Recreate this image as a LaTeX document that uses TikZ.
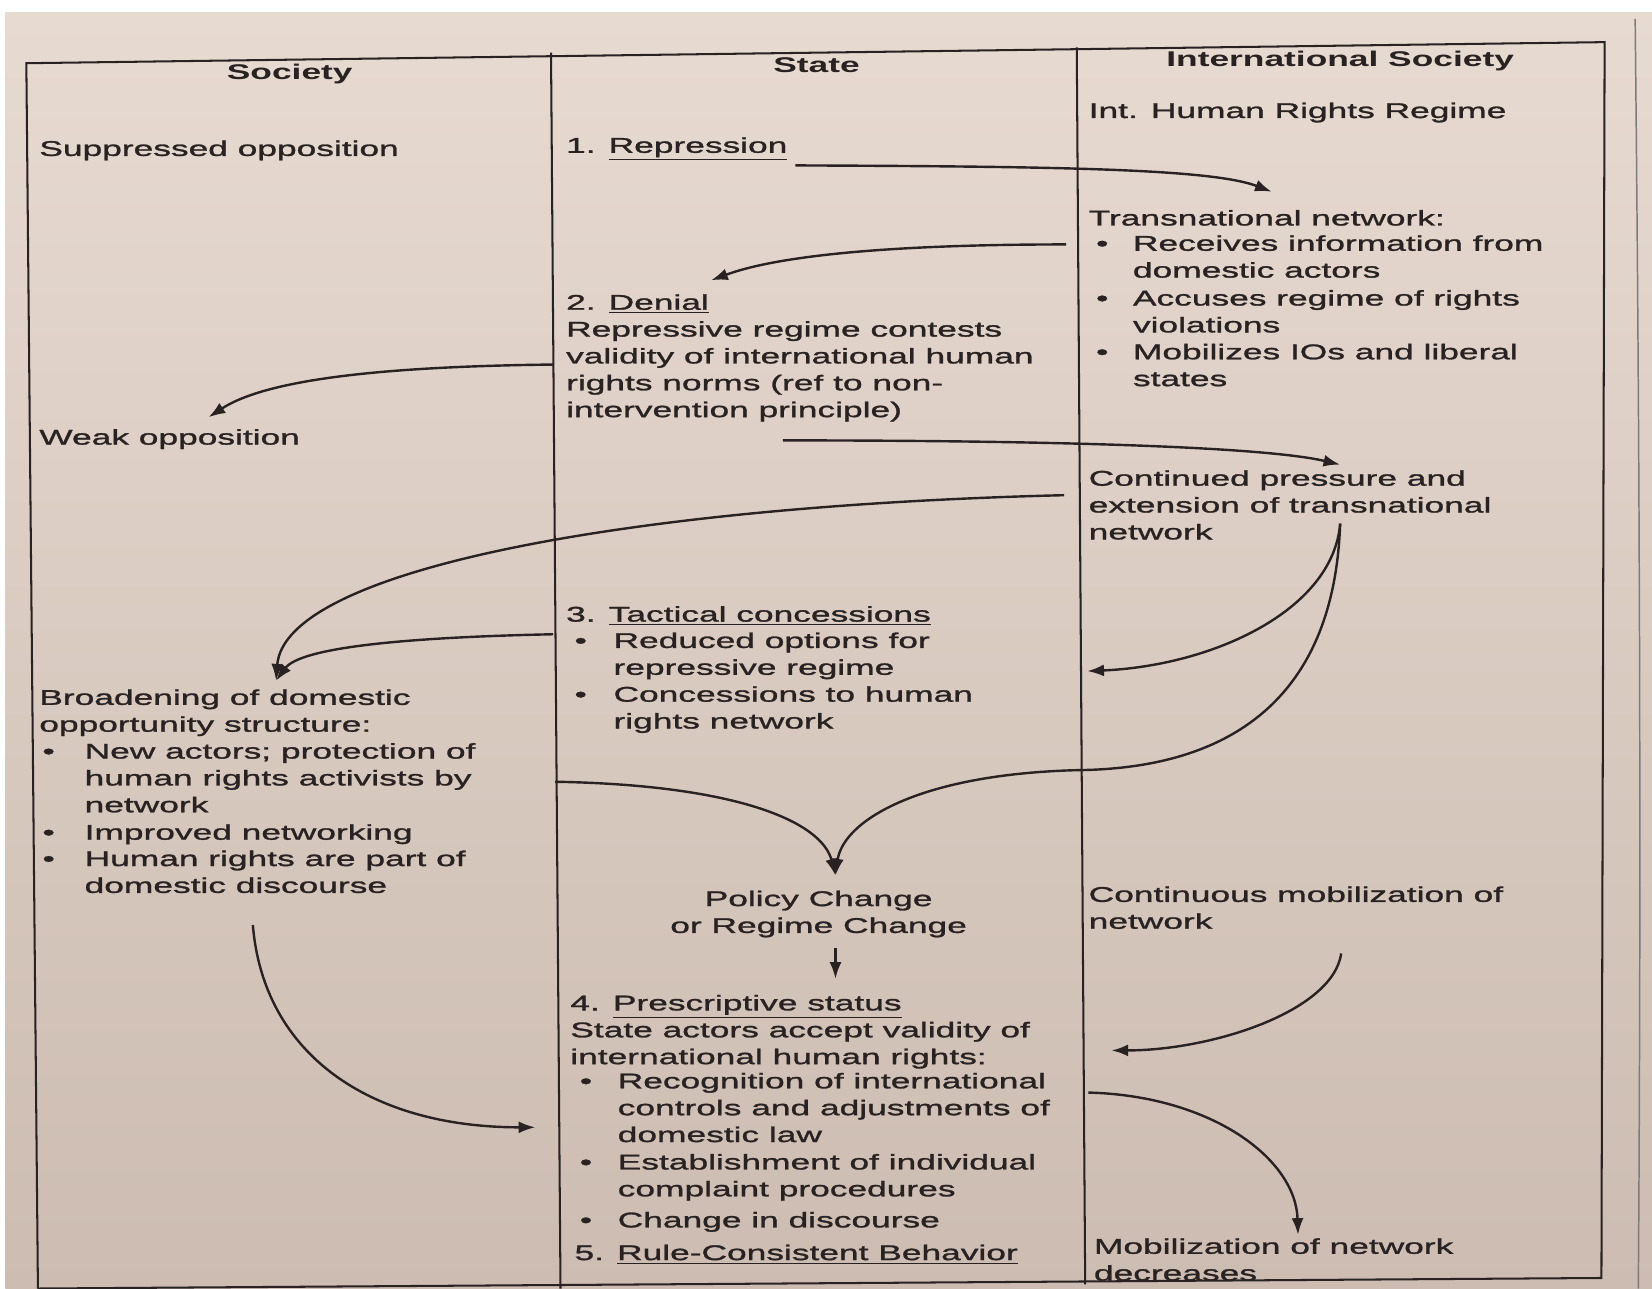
\documentclass[tikz,border=0pt]{standalone}
\usepackage{fontspec}
\setmainfont{Liberation Sans}[FakeStretch=1.66]
\newfontfamily\bodyfont{Liberation Sans}[FakeStretch=1.66, FakeBold=1.3]
\usetikzlibrary{arrows.meta}
\definecolor{ink}{RGB}{40,34,34}
\definecolor{papertop}{RGB}{231,218,208}
\definecolor{paperbot}{RGB}{204,188,178}
\newcommand{\lns}[1]{\begin{tabular}[t]{@{}l@{}}#1\end{tabular}}
\newcommand{\clns}[1]{\begin{tabular}[t]{@{}c@{}}#1\end{tabular}}

\tikzset{
  txt/.style={anchor=base west, inner sep=0pt, text=ink, font=\bodyfont\fontsize{11.5}{14.5}\selectfont},
  head/.style={anchor=base, inner sep=0pt, text=ink, font=\fontsize{11.5}{14.5}\selectfont\bfseries},
  mid/.style={anchor=base, inner sep=0pt, text=ink, font=\bodyfont\fontsize{11.5}{14.5}\selectfont},
  frame/.style={draw=ink, line width=1.1pt},
  flow/.style={draw=ink, line width=1.3pt, -{Latex[length=9pt,width=6.5pt]}},
}

\begin{document}
\begin{tikzpicture}[x=0.02cm, y=-0.02cm]
	\useasboundingbox (0,0) rectangle (1568,1223);
	\fill[white] (0,0) rectangle (1568,1223);
	\shade[top color=papertop, bottom color=paperbot] (5,12) rectangle (1568,1223);
	\draw[ink!60, line width=0.8pt] (1552,18) .. controls (1556,400) and (1558,800) .. (1555,1223);

	\coordinate (tl) at (25,60);
	\coordinate (tr) at (1523,40);
	\coordinate (br) at (1520,1213);
	\coordinate (bl) at (36,1223);
	\coordinate (c1top) at (523,50);
	\coordinate (c1bot) at (532,1223);
	\coordinate (c2top) at (1022,45);
	\coordinate (c2bot) at (1030,1219);
	\draw[frame] (bl) -- (tl) -- (tr) -- (br) -- (bl);
	\draw[frame] (c1top) -- (c1bot);
	\draw[frame] (c2top) -- (c2bot);

	\node[head] (hsoc) at (275,75) {Society};
	\node[head] (hstate) at (775,69) {State};
	\node[head] (hint) at (1272,63) {International Society};

	\node[txt] (supp) at (37,148) {Suppressed opposition};
	\node[txt] (weak) at (37,422) {Weak opposition};
	\node[txt] (broad) at (37,669) {\lns{Broadening of domestic\\opportunity structure:}};
	\node[txt] (bb1) at (40,720) {\textbullet};
	\node[txt] (sb1) at (80,720) {\lns{New actors; protection of\\human rights activists by\\network}};
	\node[txt] (bb2) at (40,797) {\textbullet};
	\node[txt] (sb2) at (80,797) {Improved networking};
	\node[txt] (bb3) at (40,822) {\textbullet};
	\node[txt] (sb3) at (80,822) {\lns{Human rights are part of\\domestic discourse}};

	\node[txt] (rep) at (537,145) {1. \underline{Repression}};
	\node[txt] (deny) at (537,294) {\lns{2. \underline{Denial}\\Repressive regime contests\\validity of international human\\rights norms (ref to non-\\intervention principle)}};
	\node[txt] (tact) at (537,590) {3. \underline{Tactical concessions}};
	\node[txt] (tb1) at (545,615) {\textbullet};
	\node[txt] (ts1) at (582,615) {\lns{Reduced options for\\repressive regime}};
	\node[txt] (tb2) at (545,666) {\textbullet};
	\node[txt] (ts2) at (582,666) {\lns{Concessions to human\\rights network}};
	\node[mid] (policy) at (777,860) {\clns{Policy Change\\or Regime Change}};
	\node[txt] (presc) at (541,959) {\lns{4. \underline{Prescriptive status}\\State actors accept validity of\\international human rights:}};
	\node[txt] (pb1) at (550,1033) {\textbullet};
	\node[txt] (ps1) at (586,1033) {\lns{Recognition of international\\controls and adjustments of\\domestic law}};
	\node[txt] (pb2) at (550,1110) {\textbullet};
	\node[txt] (ps2) at (586,1110) {\lns{Establishment of individual\\complaint procedures}};
	\node[txt] (pb3) at (550,1165) {\textbullet};
	\node[txt] (ps3) at (586,1165) {Change in discourse};
	\node[txt] (rule) at (545,1196) {5. \underline{Rule-Consistent Behavior}};

	\node[txt] (regime) at (1033,112) {Int. Human Rights Regime};
	\node[txt] (trans) at (1033,214) {Transnational network:};
	\node[txt] (nb1) at (1040,238) {\textbullet};
	\node[txt] (ns1) at (1075,238) {\lns{Receives information from\\domestic actors}};
	\node[txt] (nb2) at (1040,290) {\textbullet};
	\node[txt] (ns2) at (1075,290) {\lns{Accuses regime of rights\\violations}};
	\node[txt] (nb3) at (1040,341) {\textbullet};
	\node[txt] (ns3) at (1075,341) {\lns{Mobilizes IOs and liberal\\states}};
	\node[txt] (press) at (1033,461) {\lns{Continued pressure and\\extension of transnational\\network}};
	\node[txt] (contmob) at (1033,856) {\lns{Continuous mobilization of\\network}};
	\node[txt] (decr) at (1038,1190) {\lns{Mobilization of network\\decreases}};

	\coordinate (repout) at (755,157);
	\coordinate (transin) at (1207,182);
	\coordinate (transout) at (1012,232);
	\coordinate (denyin) at (675,266);
	\coordinate (denyout) at (525,346);
	\coordinate (weakin) at (198,396);
	\coordinate (denyout2) at (743,418);
	\coordinate (pressin) at (1272,441);
	\coordinate (pressout) at (1010,470);
	\coordinate (broadin) at (262,646);
	\coordinate (tactout) at (525,602);
	\coordinate (pressdown) at (1272,497);
	\coordinate (tactin) at (1032,637);
	\coordinate (cross) at (1022,731);
	\coordinate (tactout2) at (527,742);
	\coordinate (policyin) at (793,831);
	\coordinate (policyout) at (793,900);
	\coordinate (prescin) at (793,929);
	\coordinate (broadout) at (240,878);
	\coordinate (prescleft) at (508,1070);
	\coordinate (mobout) at (1273,905);
	\coordinate (prescright) at (1055,997);
	\coordinate (prescout) at (1033,1037);
	\coordinate (decrin) at (1232,1172);

	\draw[flow] (repout) .. controls (1000,158) and (1150,160) .. (transin);
	\draw[flow] (transout) .. controls (850,232) and (740,242) .. (denyin);
	\draw[flow] (denyout) .. controls (350,348) and (250,362) .. (weakin);
	\draw[flow] (denyout2) .. controls (1000,418) and (1200,424) .. (pressin);
	\draw[flow] (pressout) .. controls (600,480) and (270,540) .. (broadin);
	\draw[flow] (tactout) .. controls (380,605) and (285,615) .. (broadin);
	\draw[flow] (pressdown) .. controls (1265,580) and (1150,632) .. (tactin);
	\draw[flow] (pressdown) .. controls (1265,700) and (1120,730) .. (cross) .. controls (870,735) and (800,780) .. (policyin);
	\draw[flow] (tactout2) .. controls (700,745) and (780,780) .. (policyin);
	\draw[flow] (policyout) -- (prescin);
	\draw[flow] (broadout) .. controls (250,1000) and (350,1070) .. (prescleft);
	\draw[flow] (mobout) .. controls (1265,960) and (1150,997) .. (prescright);
	\draw[flow] (prescout) .. controls (1150,1040) and (1230,1100) .. (decrin);
\end{tikzpicture}
\end{document}
